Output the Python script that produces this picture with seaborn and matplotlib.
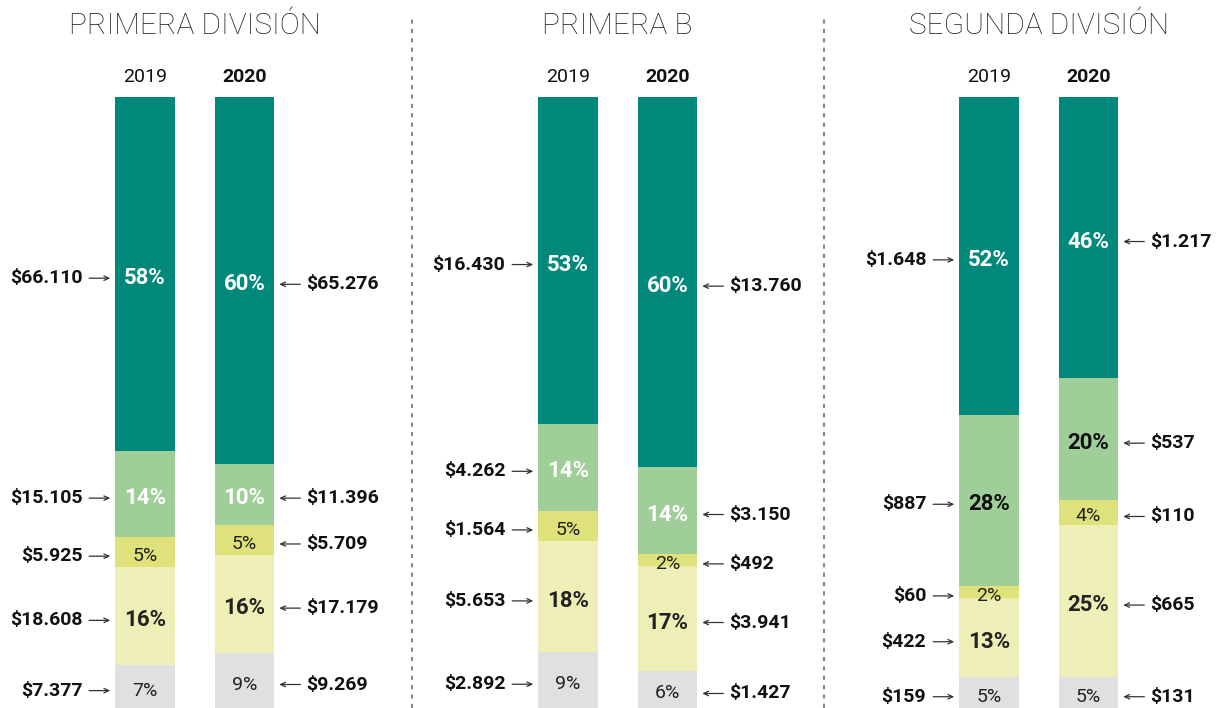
import matplotlib
matplotlib.use("Agg")
import matplotlib.pyplot as plt
from matplotlib.lines import Line2D
import numpy as np
import pandas as pd
import seaborn as sns

PANELS = ["PRIMERA DIVISIÓN", "PRIMERA B", "SEGUNDA DIVISIÓN"]
YEARS = ["2019", "2020"]

# segments listed bottom -> top
SEG_COLORS = ["#e0e0e0", "#edefb6", "#dfe27a", "#9fce98", "#00897b"]

PD_2019_PCT = [7, 16, 5, 14, 58]
PD_2020_PCT = [9, 16, 5, 10, 60]
PB_2019_PCT = [9, 18, 5, 14, 53]
PB_2020_PCT = [6, 17, 2, 14, 60]
SD_2019_PCT = [5, 13, 2, 28, 52]
SD_2020_PCT = [5, 25, 4, 20, 46]

PD_2019_MONEY = [7377, 18608, 5925, 15105, 66110]
PD_2020_MONEY = [9269, 17179, 5709, 11396, 65276]
PB_2019_MONEY = [2892, 5653, 1564, 4262, 16430]
PB_2020_MONEY = [1427, 3941, 492, 3150, 13760]
SD_2019_MONEY = [159, 422, 60, 887, 1648]
SD_2020_MONEY = [131, 665, 110, 537, 1217]

PCT = [[PD_2019_PCT, PD_2020_PCT], [PB_2019_PCT, PB_2020_PCT], [SD_2019_PCT, SD_2020_PCT]]
MONEY = [[PD_2019_MONEY, PD_2020_MONEY], [PB_2019_MONEY, PB_2020_MONEY],
         [SD_2019_MONEY, SD_2020_MONEY]]

# text colour on the light-green segment differs per panel in the original
GREEN_TEXT = ["white", "white", "#111111"]

# layout (pixels)
W, H = 1217, 708
BAR_TOP_PX = 97
PANEL_EDGES_PX = [0, 412, 824, 1217]
FIRST_BAR_PX = [145, 568, 989]
BAR_STEP_PX = 99.5
BAR_W = 0.6
LABEL_DROP_PX = 4

sns.set_style("white")
plt.rcParams["font.family"] = ["Roboto", "DejaVu Sans"]

fig = plt.figure(figsize=(W / 100, H / 100), dpi=100)
plot_h = H - BAR_TOP_PX


def money_fmt(v):
    return "$" + f"{v:,}".replace(",", ".")


for p, panel in enumerate(PANELS):
    left, right = PANEL_EDGES_PX[p], PANEL_EDGES_PX[p + 1]
    ax = fig.add_axes([left / W, 0, (right - left) / W, plot_h / H])

    rows = []
    for y_i, year in enumerate(YEARS):
        pct = np.array(PCT[p][y_i], dtype=float)
        share = pct / pct.sum()
        cum = np.cumsum(share)
        for s in range(len(pct)):
            rows.append({"year": year, "seg": s, "share": share[s], "cum": cum[s],
                         "pct": PCT[p][y_i][s], "money": MONEY[p][y_i][s]})
    df = pd.DataFrame(rows)

    # draw from top segment down so lower ones overlay
    for s in reversed(range(len(SEG_COLORS))):
        sns.barplot(data=df[df["seg"] == s], x="year", y="cum", order=YEARS,
                    color=SEG_COLORS[s], saturation=1, width=BAR_W,
                    errorbar=None, linewidth=0, edgecolor="none", ax=ax)

    drop = LABEL_DROP_PX / plot_h
    for y_i, year in enumerate(YEARS):
        sub = df[df["year"] == year]
        for _, r in sub.iterrows():
            yc = r["cum"] - r["share"] / 2
            s = int(r["seg"])
            if s == 4:
                tc = "white"
            elif s == 3:
                tc = GREEN_TEXT[p]
            else:
                tc = "#222222"
            big = r["pct"] >= 10
            ax.text(y_i, yc - drop, f"{int(r['pct'])}%", ha="center", va="center",
                    fontsize=16 if big else 14,
                    fontweight="bold" if big else "normal", color=tc)

            if y_i == 0:
                edge, a_off, t_off, ha = y_i - BAR_W / 2, -26, -33, "right"
            else:
                edge, a_off, t_off, ha = y_i + BAR_W / 2, 26, 32, "left"
            ax.annotate("", xy=(edge, yc - drop), xytext=(a_off, 0), textcoords="offset pixels",
                        arrowprops=dict(arrowstyle="->,head_length=0.35,head_width=0.16",
                                        color="#333333", lw=0.9, shrinkA=0, shrinkB=3.5))
            ax.annotate(money_fmt(int(r["money"])), xy=(edge, yc - drop), xytext=(t_off, 0),
                        textcoords="offset pixels", ha=ha, va="center",
                        fontsize=14, fontweight="bold", color="#111111")

        ax.text(y_i, 1 + 20 / plot_h, year, ha="center", va="center", fontsize=14,
                fontweight="bold" if y_i == 1 else "normal", color="#111111", clip_on=False)

    ax.text(0.5, 1 + 71 / plot_h, panel, ha="center", va="center", fontsize=21.5,
            fontweight="light", color="#222222", clip_on=False)

    ax.set_xlim((left - FIRST_BAR_PX[p]) / BAR_STEP_PX, (right - FIRST_BAR_PX[p]) / BAR_STEP_PX)
    ax.set_ylim(0, 1)
    ax.axis("off")

for xp in PANEL_EDGES_PX[1:-1]:
    fig.add_artist(Line2D([xp / W, xp / W], [0, 1 - 17 / H], transform=fig.transFigure,
                          color="#888888", lw=1.5, linestyle=(0, (2, 2.5))))

fig.savefig("out.png", dpi=100)
